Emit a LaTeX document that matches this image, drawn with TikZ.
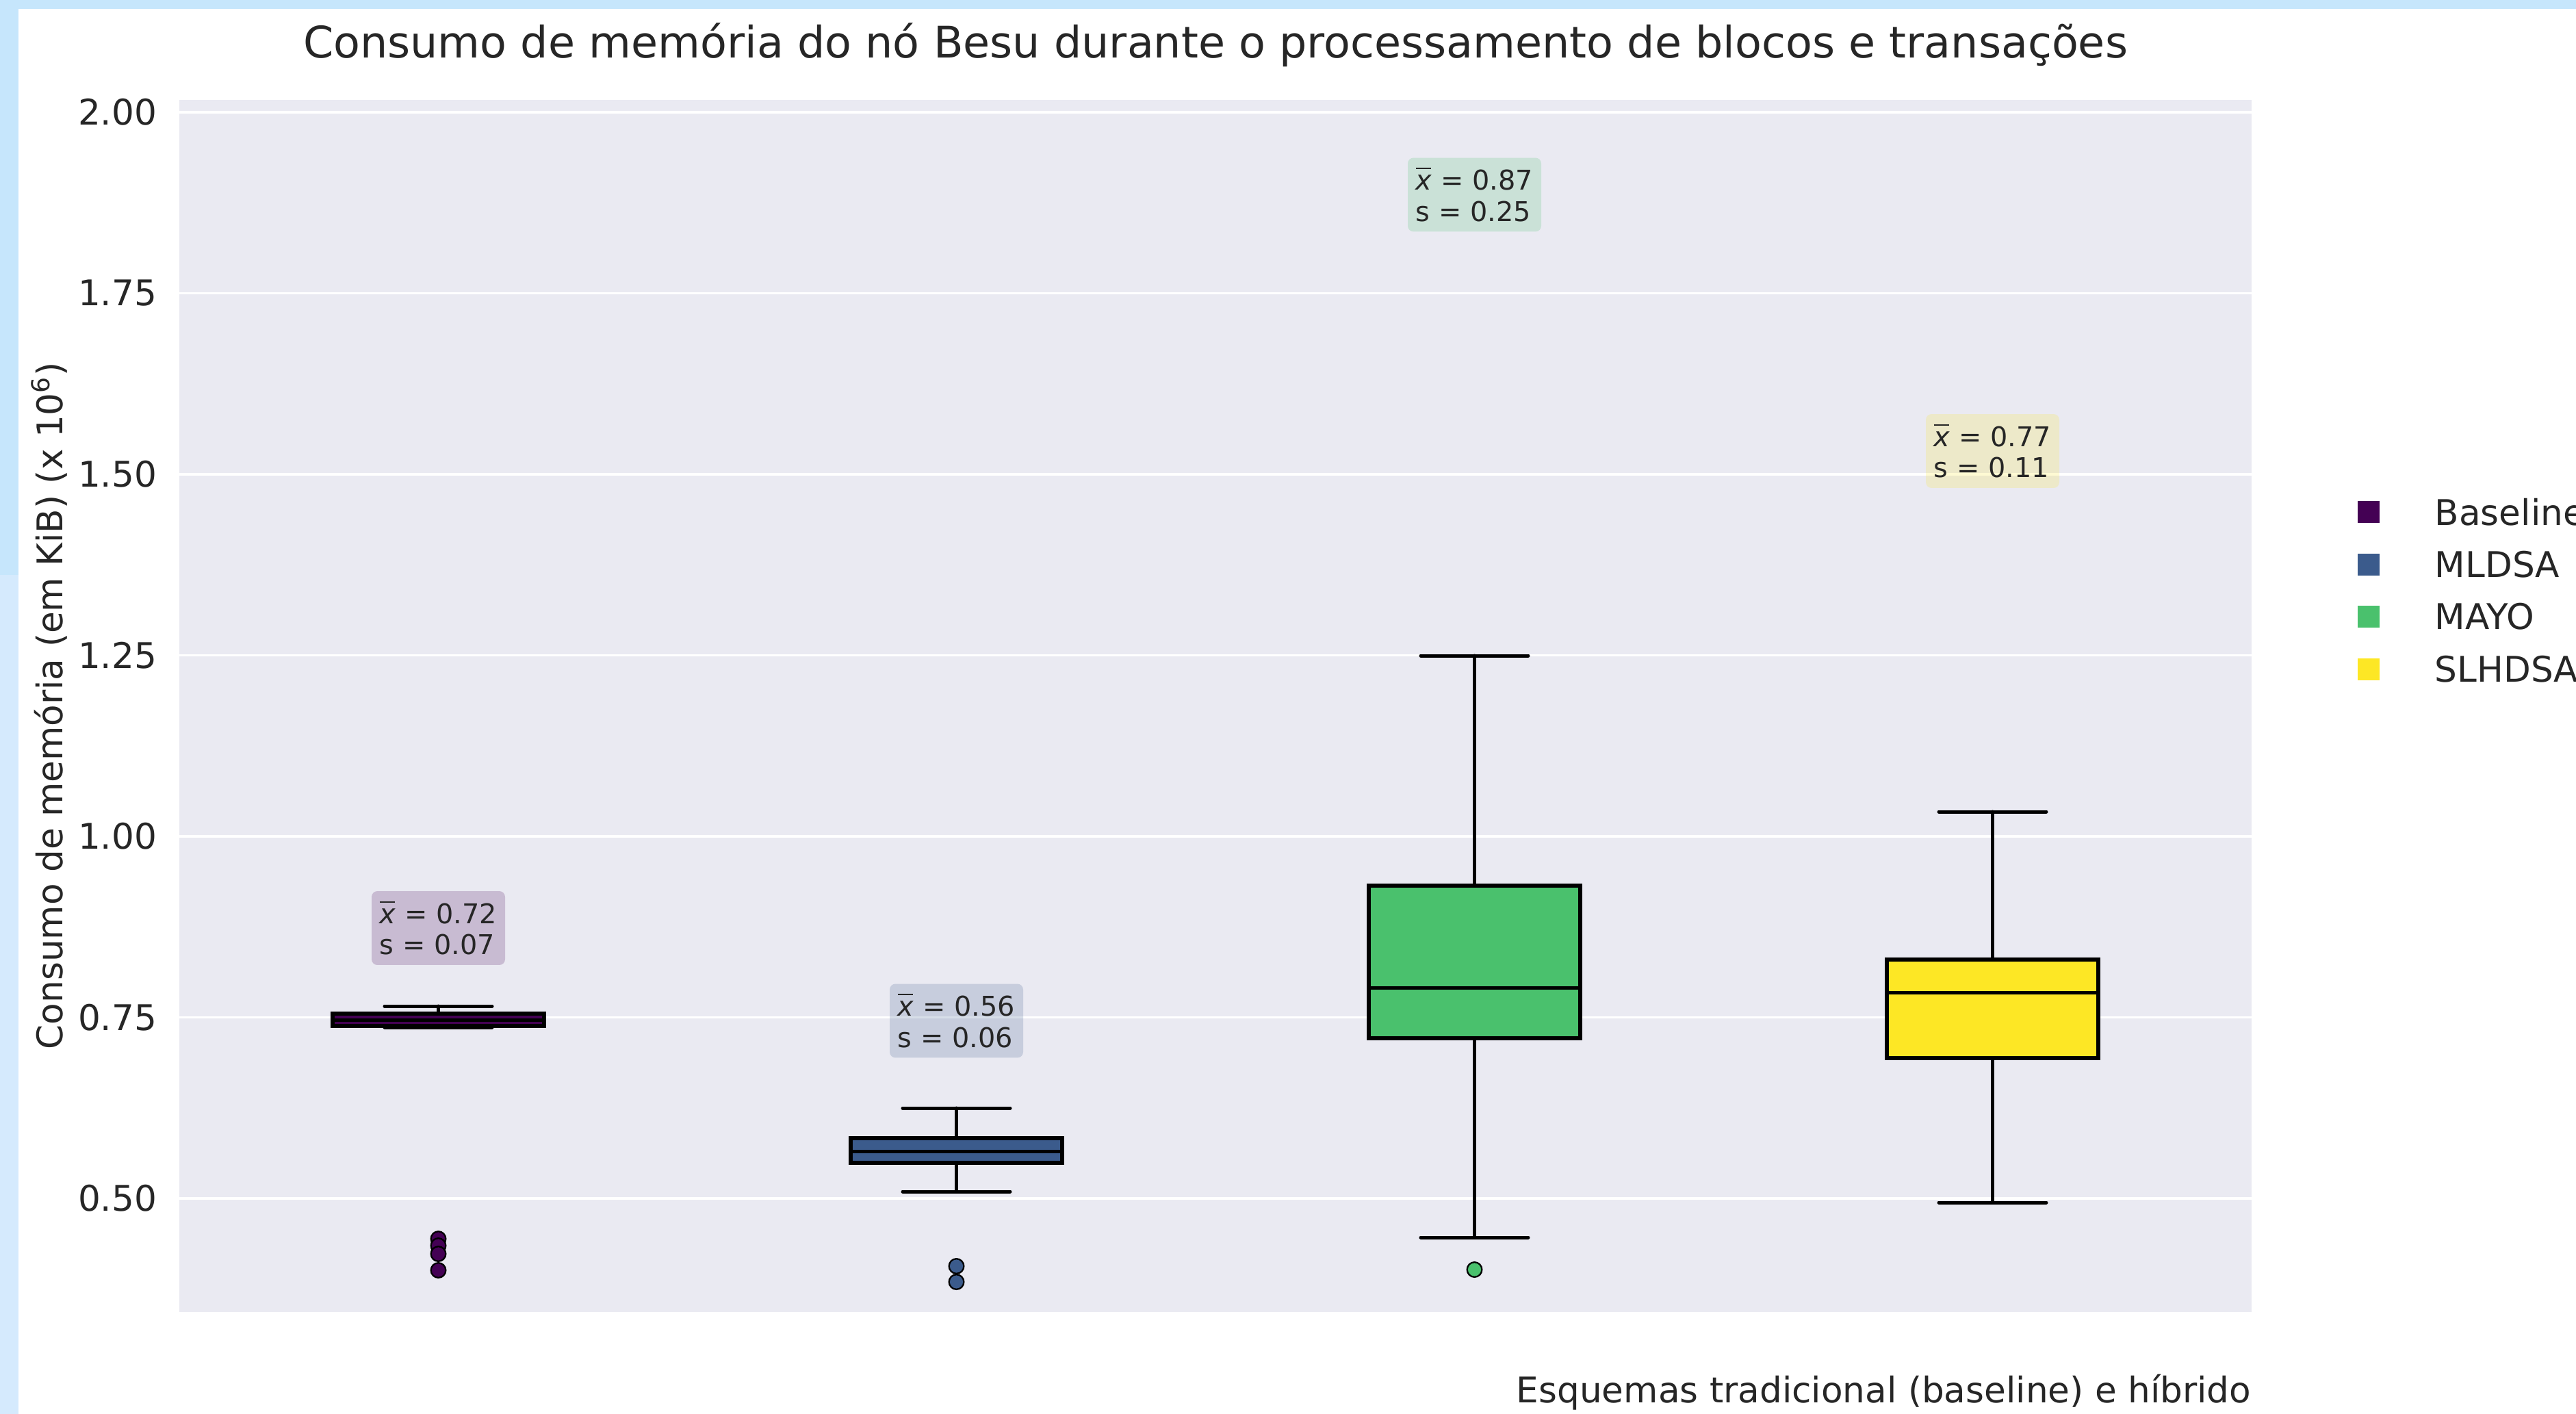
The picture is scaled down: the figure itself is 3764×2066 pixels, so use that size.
\documentclass[tikz,border=0pt]{standalone}
\usepackage{fontspec}
\setmainfont{DejaVu Sans}
\definecolor{cBase}{HTML}{440154}
\definecolor{cML}{HTML}{3B5B8C}
\definecolor{cMayo}{HTML}{4AC16D}
\definecolor{cSlh}{HTML}{FDE725}
\definecolor{plotbg}{HTML}{EAEAF2}
\definecolor{txt}{HTML}{262626}
\definecolor{frameA}{HTML}{C6E6FC}
\definecolor{frameB}{HTML}{D5EAFD}
\newcommand\xbarsym{\makebox[0pt][l]{\raisebox{0.76em}{\rule{0.56em}{0.055em}}}\textit{x}}
\begin{document}
\begin{tikzpicture}[x=0.24pt,y=-0.24pt,
  lab/.style={text=txt, font=\fontsize{12.4}{15}\selectfont, inner sep=0pt},
  ticklab/.style={lab, anchor=east},
  gridln/.style={white, line width=0.85pt},
  boxst/.style={draw=black, line width=1.25pt},
  whisk/.style={black, line width=1.2pt, line cap=round},
  outl/.style={circle, draw=black, line width=0.55pt, minimum size=5.2pt, inner sep=0pt},
  annot/.style={rounded corners=2pt, fill opacity=0.2, text opacity=1, text=txt, minimum width=46.8pt, minimum height=25.9pt, inner sep=0pt, align=left, font=\fontsize{9.55}{11}\selectfont},
  legsq/.style={minimum size=7.7pt, inner sep=0pt},
]
\useasboundingbox (0,0) rectangle (3764,2066);
\clip (0,0) rectangle (3764,2066);
\fill[white] (0,0) rectangle (3764,2066);
% frame
\fill[frameA] (0,0) rectangle (3764,13);
\fill[frameA] (0,0) rectangle (27,840);
\fill[frameB] (0,840) rectangle (27,2066);
% title
\node[text=txt, font=\fontsize{15.25}{18}\selectfont, anchor=base, inner sep=0pt] (title) at (1776,84) {Consumo de memória do nó Besu durante o processamento de blocos e transações};
% plot area
\fill[plotbg] (262,146) rectangle (3290,1917);
\foreach \yy/\lbl/\nm in {1751/0.50/a,1486.5/0.75/b,1222/1.00/c,957.5/1.25/d,693/1.50/e,428.5/1.75/f,164/2.00/g}{
  \draw[gridln] (262,\yy) -- (3290,\yy);
  \node[ticklab] (tick\nm) at (230,\yy) {\lbl};
}
% axis labels
\node[lab, rotate=90] (ylab) at (72,1031) {Consumo de memória (em KiB) (x 10\textsuperscript{6})};
\node[lab, anchor=base east] (xlab) at (3290,2049) {Esquemas tradicional (baseline) e híbrido};
% ---- Baseline
\draw[whisk] (640.5,1481) -- (640.5,1470);
\draw[whisk] (562,1470) -- (719,1470);
\draw[whisk] (562,1501) -- (719,1501);
\draw[boxst, fill=cBase] (486,1481) rectangle (795,1499);
\draw[whisk] (486,1490) -- (795,1490);
\foreach \oy/\k in {1810/a,1820/b,1832/c,1856/d}{\node[outl, fill=cBase] (ob\k) at (640.5,\oy) {};}
% ---- MLDSA
\draw[whisk] (1397.5,1663) -- (1397.5,1619);
\draw[whisk] (1397.5,1699) -- (1397.5,1741);
\draw[whisk] (1319,1619) -- (1476,1619);
\draw[whisk] (1319,1741) -- (1476,1741);
\draw[boxst, fill=cML] (1243,1663) rectangle (1552,1699);
\draw[whisk] (1243,1682) -- (1552,1682);
\foreach \oy/\k in {1850/a,1873/b}{\node[outl, fill=cML] (om\k) at (1397.5,\oy) {};}
% ---- MAYO
\draw[whisk] (2154.5,1294) -- (2154.5,958);
\draw[whisk] (2154.5,1517) -- (2154.5,1808);
\draw[whisk] (2076,958) -- (2233,958);
\draw[whisk] (2076,1808) -- (2233,1808);
\draw[boxst, fill=cMayo] (2000,1294) rectangle (2309,1517);
\draw[whisk] (2000,1443) -- (2309,1443);
\node[outl, fill=cMayo] (oy1) at (2154.5,1855) {};
% ---- SLHDSA
\draw[whisk] (2911.5,1402) -- (2911.5,1186);
\draw[whisk] (2911.5,1546) -- (2911.5,1757);
\draw[whisk] (2833,1186) -- (2990,1186);
\draw[whisk] (2833,1757) -- (2990,1757);
\draw[boxst, fill=cSlh] (2757,1402) rectangle (3066,1546);
\draw[whisk] (2757,1450) -- (3066,1450);
% annotations
\node[annot, fill=cBase] (anBase) at (640.5,1356) {\xbarsym{} = 0.72\\s = 0.07};
\node[annot, fill=cML] (anML) at (1397.5,1491.5) {\xbarsym{} = 0.56\\s = 0.06};
\node[annot, fill=cMayo] (anMayo) at (2154.5,284.5) {\xbarsym{} = 0.87\\s = 0.25};
\node[annot, fill=cSlh] (anSlh) at (2911.5,659) {\xbarsym{} = 0.77\\s = 0.11};
% legend
\foreach \ly/\lc/\lt/\k in {748/cBase/Baseline/a,825/cML/MLDSA/b,901/cMayo/MAYO/c,978/cSlh/SLHDSA/d}{
  \node[legsq, fill=\lc] (lsq\k) at (3461,\ly) {};
  \node[lab, anchor=west] (ltx\k) at (3557,\ly) {\lt};
}
\end{tikzpicture}
\end{document}
